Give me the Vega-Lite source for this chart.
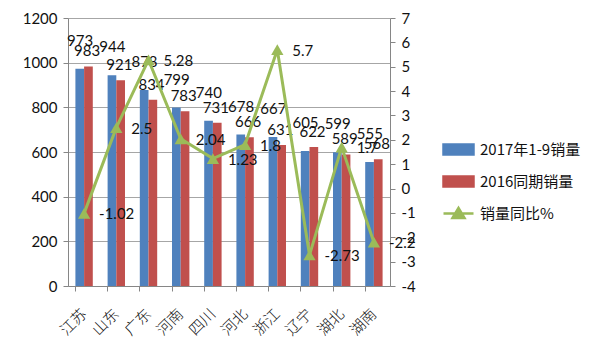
{
  "$schema": "https://vega.github.io/schema/vega-lite/v6.json",
  "autosize": {"type": "none"},
  "width": 322,
  "height": 268,
  "padding": {"left": 68, "top": 18, "right": 210, "bottom": 73},
  "background": "white",
  "config": {
    "font": "Lato",
    "locale": {"number": {"decimal": ".", "thousands": "", "grouping": [3], "currency": ["", ""], "minus": "-"}},
    "view": {"stroke": null},
    "axis": {"domainColor": "#868686", "tickColor": "#868686", "labelColor": "#111111", "labelFont": "Lato", "labelFontSize": 15, "gridColor": "#A6A6A6"}
  },
  "data": {
    "values": [
      {"province": "江苏", "2017年1-9销量": 973, "2016同期销量": 983, "yoy": -1.02},
      {"province": "山东", "2017年1-9销量": 944, "2016同期销量": 921, "yoy": 2.5},
      {"province": "广东", "2017年1-9销量": 878, "2016同期销量": 834, "yoy": 5.28},
      {"province": "河南", "2017年1-9销量": 799, "2016同期销量": 783, "yoy": 2.04},
      {"province": "四川", "2017年1-9销量": 740, "2016同期销量": 731, "yoy": 1.23},
      {"province": "河北", "2017年1-9销量": 678, "2016同期销量": 666, "yoy": 1.8},
      {"province": "浙江", "2017年1-9销量": 667, "2016同期销量": 631, "yoy": 5.7},
      {"province": "辽宁", "2017年1-9销量": 605, "2016同期销量": 622, "yoy": -2.73},
      {"province": "湖北", "2017年1-9销量": 599, "2016同期销量": 589, "yoy": 1.7},
      {"province": "湖南", "2017年1-9销量": 555, "2016同期销量": 568, "yoy": -2.2}
    ]
  },
  "layer": [
    {
      "encoding": {
        "x": {
          "field": "province", "type": "nominal", "sort": null,
          "scale": {"paddingInner": 0.46, "paddingOuter": 0.23},
          "axis": {"title": null, "orient": "bottom", "ticks": false, "domain": false, "labelAngle": -45, "labelAlign": "right", "labelBaseline": "middle", "labelPadding": 25, "labelFont": "Noto Sans CJK SC", "labelFontSize": 15, "labelFontWeight": 300}
        }
      },
      "layer": [
        {
          "transform": [{"fold": ["2017年1-9销量", "2016同期销量"], "as": ["series", "sales"]}],
          "mark": {"type": "bar"},
          "encoding": {
            "xOffset": {"field": "series", "type": "nominal", "sort": ["2017年1-9销量", "2016同期销量"], "scale": {"paddingInner": 0, "paddingOuter": 0}},
            "y": {"field": "sales", "type": "quantitative", "scale": {"domain": [0, 1200], "nice": false}, "axis": {"title": null, "format": "d", "values": [0, 200, 400, 600, 800, 1000, 1200], "grid": true, "tickSize": 5, "labelPadding": 6}},
            "color": {
              "field": "series", "type": "nominal",
              "scale": {"domain": ["2017年1-9销量", "2016同期销量", "销量同比%"], "range": ["#4F81BD", "#C0504D", "#9BBB59"]},
              "legend": {
                "title": null, "orient": "none", "legendX": 379, "legendY": 120, "padding": 0,
                "symbolSize": 400, "rowPadding": 10, "labelOffset": 10,
                "labelFont": "Noto Sans CJK SC", "labelFontSize": 15, "labelColor": "#111111",
                "encode": {
                  "symbols": {
                    "update": {
                      "shape": {"signal": "datum.value === '销量同比%' ? 'M-1.5,0H1.5M-0.6,0.45L0,-0.55L0.6,0.45Z' : 'M-1.5,-0.5H1.5V0.5H-1.5Z'"},
                      "fill": {"scale": "color", "field": "value"},
                      "stroke": {"scale": "color", "field": "value"},
                      "strokeWidth": {"value": 2.5},
                      "opacity": {"value": 1}
                    }
                  }
                }
              }
            }
          }
        },
        {
          "mark": {"type": "text", "dx": -4, "dy": -28, "fontSize": 15, "font": "Lato", "color": "#111111", "baseline": "middle"},
          "encoding": {
            "y": {"field": "2017年1-9销量", "type": "quantitative"},
            "text": {"field": "2017年1-9销量", "type": "quantitative"}
          }
        },
        {
          "mark": {"type": "text", "dx": 3, "dy": -15, "fontSize": 15, "font": "Lato", "color": "#111111", "baseline": "middle"},
          "encoding": {
            "y": {"field": "2016同期销量", "type": "quantitative"},
            "text": {"field": "2016同期销量", "type": "quantitative"}
          }
        }
      ]
    },
    {
      "encoding": {
        "x": {
          "field": "province", "type": "nominal", "sort": null,
          "axis": {"title": null, "orient": "bottom", "labels": false, "ticks": true, "domain": true, "bandPosition": 0, "tickSize": 5, "grid": false}
        },
        "y": {"field": "yoy", "type": "quantitative", "scale": {"domain": [-4, 7], "nice": false}, "axis": {"title": null, "orient": "right", "format": "d", "values": [-4, -3, -2, -1, 0, 1, 2, 3, 4, 5, 6, 7], "grid": false, "tickSize": 5, "labelPadding": 6}}
      },
      "layer": [
        {"mark": {"type": "line", "color": "#9BBB59", "strokeWidth": 3}},
        {"mark": {"type": "point", "shape": "triangle-up", "filled": true, "size": 150, "color": "#9BBB59", "opacity": 1}},
        {
          "mark": {"type": "text", "align": "left", "baseline": "middle", "dx": 15, "dy": 1, "fontSize": 15, "font": "Lato", "color": "#111111"},
          "encoding": {"text": {"field": "yoy", "type": "quantitative"}}
        }
      ]
    }
  ],
  "resolve": {"scale": {"y": "independent"}, "axis": {"x": "independent"}}
}
